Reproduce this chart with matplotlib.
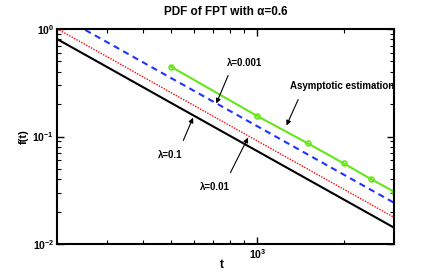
import matplotlib
matplotlib.use("Agg")
import matplotlib.pyplot as plt
from matplotlib.ticker import LogLocator, NullFormatter

fam = ['Liberation Sans Narrow', 'Liberation Sans', 'DejaVu Sans']
plt.rcParams['font.family'] = fam
plt.rcParams['mathtext.fontset'] = 'custom'
plt.rcParams['mathtext.rm'] = 'Liberation Sans:bold'
plt.rcParams['mathtext.it'] = 'Liberation Sans:bold'
plt.rcParams['mathtext.default'] = 'rm'

# data
t_sim = [200, 300, 500, 1000, 2000, 3000]
f_lam01 = [0.807, 0.441, 0.2055, 0.0731, 0.026, 0.0142]
f_lam001 = [1.005, 0.55, 0.256, 0.091, 0.0324, 0.0177]
f_lam0001 = [1.375, 0.751, 0.350, 0.1246, 0.0443, 0.0242]
t_asym = [500, 1000, 1500, 2000, 2500, 3000]
f_asym = [0.446, 0.155, 0.0865, 0.0563, 0.040, 0.0307]

fig = plt.figure(figsize=(4.36, 2.73), dpi=100)
ax = fig.add_axes([57/436, 1-244/273, (394-57)/436, (244-29)/273])

ax.plot(t_sim, f_lam01, color='black', lw=1.5, ls='-')
ax.plot(t_sim, f_lam001, color='red', lw=1.0, ls=(0, (1, 1)))
ax.plot(t_sim, f_lam0001, color='#2233ff', lw=1.5, ls=(0, (3, 2.2)))
ax.plot(t_asym, f_asym, color='#66e61a', lw=1.5, ls='-', marker='o', ms=3.5,
        mfc='none', mec='#66e61a', mew=1.2)

ax.set_xscale('log')
ax.set_yscale('log')
ax.set_xlim(200, 3000)
ax.set_ylim(0.01, 1)

ax.xaxis.set_major_locator(LogLocator(base=10, numticks=10))
ax.xaxis.set_minor_locator(LogLocator(base=10, subs=range(2, 10), numticks=20))
ax.xaxis.set_minor_formatter(NullFormatter())
ax.yaxis.set_minor_locator(LogLocator(base=10, subs=range(2, 10), numticks=20))
ax.yaxis.set_minor_formatter(NullFormatter())

ax.tick_params(which='both', direction='in', top=True, right=True)
ax.tick_params(which='major', length=5, width=1, labelsize=7.5, pad=2)
ax.tick_params(which='minor', length=3, width=0.8)
for lbl in ax.get_xticklabels() + ax.get_yticklabels():
    lbl.set_fontweight('bold')
for sp in ax.spines.values():
    sp.set_linewidth(1.5)

ax.set_title('PDF of FPT with α=0.6', fontsize=8.5, fontweight='bold', pad=10)
ax.set_xlabel('t', fontsize=8.5, fontweight='bold', labelpad=0)
ax.xaxis.set_label_coords((222-57)/(394-57), -0.07)
ax.set_ylabel('f(t)', fontsize=8, fontweight='bold')
ax.yaxis.set_label_coords((29-57)/(394-57), 0.5)

arrow = dict(arrowstyle='-|>', color='black', lw=0.8, mutation_scale=7)
fs = 7
# labels
ax.text(901, 0.483, 'λ=0.001', fontsize=fs, fontweight='bold', ha='center', va='center')
ax.text(1982, 0.295, 'Asymptotic estimation', fontsize=fs, fontweight='bold',
        ha='center', va='center')
ax.text(497, 0.067, 'λ=0.1', fontsize=fs, fontweight='bold', ha='center', va='center')
ax.text(713, 0.0339, 'λ=0.01', fontsize=fs, fontweight='bold', ha='center', va='center')
# arrows
ax.annotate('', xy=(713, 0.192), xytext=(798, 0.39), arrowprops=arrow)
ax.annotate('', xy=(1253, 0.12), xytext=(1402, 0.233), arrowprops=arrow)
ax.annotate('', xy=(602, 0.158), xytext=(547, 0.087), arrowprops=arrow)
ax.annotate('', xy=(938, 0.103), xytext=(798, 0.0438), arrowprops=arrow)

fig.savefig('out.png', dpi=100)
